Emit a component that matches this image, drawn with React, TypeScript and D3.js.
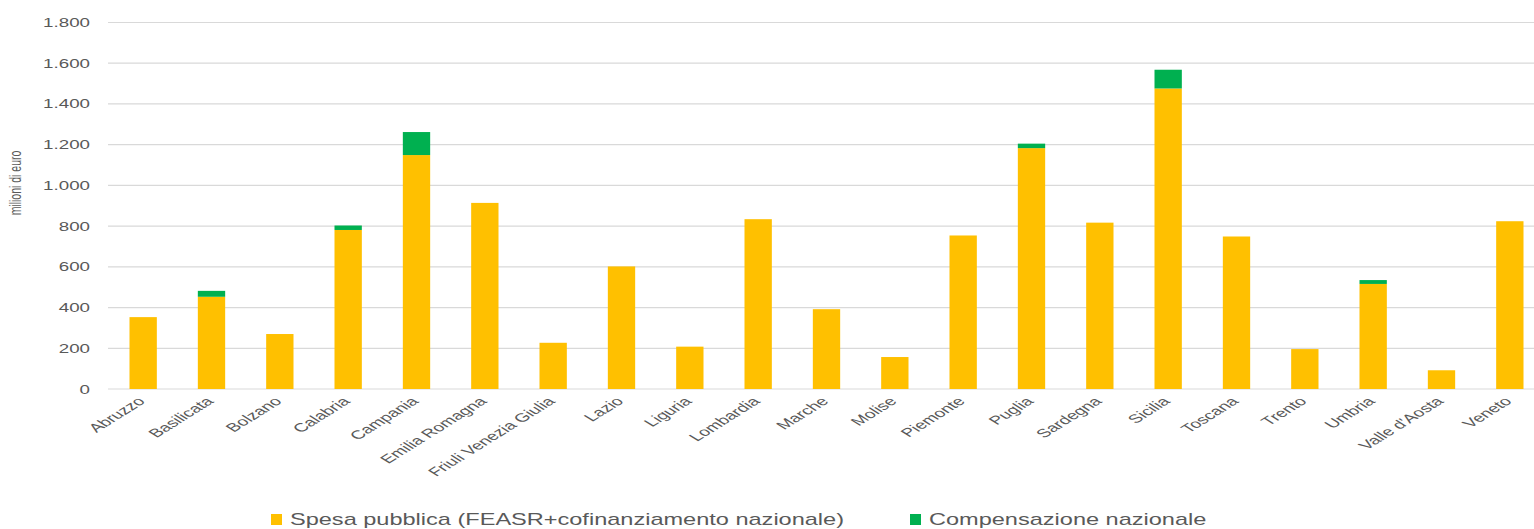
import React from 'react';
import * as d3 from 'd3';

const regioni = [
  'Abruzzo', 'Basilicata', 'Bolzano', 'Calabria', 'Campania', 'Emilia Romagna',
  'Friuli Venezia Giulia', 'Lazio', 'Liguria', 'Lombardia', 'Marche', 'Molise',
  'Piemonte', 'Puglia', 'Sardegna', 'Sicilia', 'Toscana', 'Trento', 'Umbria',
  "Valle d'Aosta", 'Veneto'
];

// Spesa pubblica (FEASR + cofinanziamento nazionale), milioni di euro
const spesaPubblica = [
  353, 453, 270, 781, 1149, 914, 227, 602, 208, 834, 392, 157,
  754, 1183, 817, 1476, 749, 196, 516, 92, 824
];

// Compensazione nazionale, milioni di euro
const compensazione = [
  0, 29, 0, 22, 113, 0, 0, 0, 0, 0, 0, 0,
  0, 22, 0, 92, 0, 0, 19, 0, 0
];

const yTicks = [0, 200, 400, 600, 800, 1000, 1200, 1400, 1600, 1800];

const serie = [
  { key: 'spesa', label: 'Spesa pubblica (FEASR+cofinanziamento nazionale)', color: '#FFC000' },
  { key: 'comp', label: 'Compensazione nazionale', color: '#00B050' }
];

const W = 1534;
const H = 529;
const FONT = '"Liberation Sans", Arial, sans-serif';
const STRETCH = 1.5;

const fmt = (v: number) => d3.format(',')(v).replace(/,/g, '.');

export default function App() {
  const rows = regioni.map((r, i) => ({ regione: r, spesa: spesaPubblica[i], comp: compensazione[i] }));
  const stacked = d3.stack<any>().keys(['spesa', 'comp'])(rows);

  const x = d3.scaleBand<string>()
    .domain(regioni)
    .range([109, 1544])
    .paddingInner(0.6)
    .paddingOuter(0.3);

  const y = d3.scaleLinear().domain([0, 1800]).range([389, 22.5]);

  const legendX = [271, 910];

  return (
    <svg width={W} height={H} style={{ position: 'absolute', left: 0, top: 0, background: '#fff' }}
      fontFamily={FONT}>
      {/* gridlines */}
      {yTicks.map(t => (
        <line key={'g' + t} x1={108} x2={W} y1={y(t)} y2={y(t)} stroke="#d9d9d9" strokeWidth={1.2} />
      ))}
      {/* y tick labels */}
      {yTicks.map(t => (
        <text key={'t' + t} transform={`translate(90,${y(t) + 4.5}) scale(${STRETCH},1)`}
          textAnchor="end" fontSize={12.5} fill="#595959">{fmt(t)}</text>
      ))}
      <text transform={`translate(21,183) scale(${STRETCH},1) rotate(-90)`} textAnchor="middle"
        fontSize={10.5} fill="#595959">milioni di euro</text>

      {/* bars */}
      {stacked.map((s, si) => (
        <g key={s.key} fill={serie[si].color}>
          {s.map((d, i) => (
            d[1] - d[0] > 0 ? (
              <rect key={i} x={x(regioni[i])} width={x.bandwidth()}
                y={y(d[1])} height={y(d[0]) - y(d[1])} />
            ) : null
          ))}
        </g>
      ))}

      {/* x labels */}
      {regioni.map(r => (
        <text key={r}
          transform={`translate(${(x(r) as number) + x.bandwidth() / 2 + 3},${402}) scale(1.6,1) rotate(-45)`}
          textAnchor="end" fontSize={12} fill="#595959">{r}</text>
      ))}

      {/* legend */}
      {serie.map((s, i) => (
        <g key={s.key} transform={`translate(${legendX[i]},${514})`}>
          <rect width={11} height={11} fill={s.color} />
          <text transform={`translate(19,11) scale(${STRETCH},1)`} fontSize={15.7} fill="#595959">{s.label}</text>
        </g>
      ))}
    </svg>
  );
}
